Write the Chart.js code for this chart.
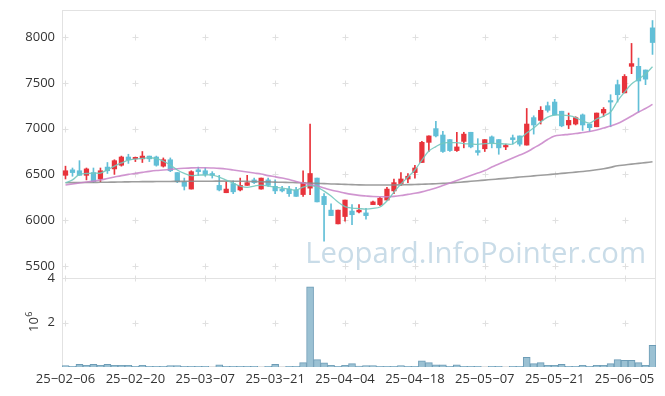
<!DOCTYPE html>
<html>
<head>
<meta charset="utf-8">
<script src="https://cdn.jsdelivr.net/npm/chart.js@4.4.1/dist/chart.umd.min.js"></script>
<style>
  html, body { margin: 0; padding: 0; background: #fff; }
  #wrap { width: 665px; height: 396px; }
</style>
</head>
<body>
<div id="wrap"><canvas id="myChart" width="665" height="396"></canvas></div>
<script>
/*---- chart data ----*/
var dates = [
  "25-02-06","25-02-07","25-02-10","25-02-11","25-02-12","25-02-13","25-02-14","25-02-17","25-02-18","25-02-19",
  "25-02-20","25-02-21","25-02-24","25-02-25","25-02-26","25-02-27","25-02-28","25-03-04","25-03-05","25-03-06",
  "25-03-07","25-03-10","25-03-11","25-03-12","25-03-13","25-03-14","25-03-17","25-03-18","25-03-19","25-03-20",
  "25-03-21","25-03-24","25-03-25","25-03-26","25-03-27","25-03-28","25-03-31","25-04-01","25-04-02","25-04-03",
  "25-04-04","25-04-07","25-04-08","25-04-09","25-04-10","25-04-11","25-04-14","25-04-15","25-04-16","25-04-17",
  "25-04-18","25-04-21","25-04-22","25-04-23","25-04-24","25-04-25","25-04-28","25-04-29","25-04-30","25-05-02",
  "25-05-07","25-05-08","25-05-09","25-05-12","25-05-13","25-05-14","25-05-15","25-05-16","25-05-19","25-05-20",
  "25-05-21","25-05-22","25-05-23","25-05-26","25-05-27","25-05-28","25-05-29","25-05-30","25-06-02","25-06-04",
  "25-06-05","25-06-09","25-06-10","25-06-11","25-06-12"
];
var opens = [
  6490,6550,6540,6490,6520,6450,6580,6560,6600,6690,
  6670,6670,6700,6690,6590,6660,6520,6420,6340,6550,
  6540,6510,6380,6300,6400,6330,6380,6440,6340,6440,
  6370,6340,6340,6330,6280,6350,6460,6260,6110,5960,
  6040,6100,6090,6080,6170,6170,6220,6320,6400,6450,
  6520,6630,6850,7000,6930,6880,6760,6860,6960,6760,
  6780,6910,6880,6800,6900,6920,6820,7120,7090,7250,
  7290,7190,7040,7050,7150,7050,7020,7170,7300,7480,
  7390,7680,7680,7640,8100
];
var highs = [
  6590,6570,6650,6570,6570,6570,6630,6660,6700,6720,
  6690,6750,6700,6700,6680,6680,6520,6460,6540,6580,
  6570,6530,6490,6420,6430,6460,6490,6460,6460,6460,
  6440,6370,6370,6360,6540,7050,6460,6290,6180,6110,
  6220,6170,6170,6130,6210,6250,6360,6450,6520,6510,
  6600,6860,6920,7080,6970,6880,6960,6960,6960,6890,
  6880,6920,6880,6830,6930,6920,7220,7140,7240,7290,
  7320,7190,7170,7130,7160,7050,7170,7230,7370,7530,
  7590,7930,7770,7640,8180
];
var lows = [
  6450,6480,6490,6440,6410,6420,6510,6500,6590,6620,
  6640,6630,6640,6590,6580,6530,6410,6330,6340,6490,
  6480,6460,6320,6300,6290,6320,6380,6400,6340,6370,
  6290,6310,6260,6260,6260,6280,6200,5770,6050,5960,
  5990,5950,6080,6010,6170,6160,6220,6290,6380,6410,
  6460,6630,6750,6910,6740,6750,6750,6790,6790,6710,
  6750,6790,6720,6770,6830,6810,6820,6940,7050,7180,
  7150,7020,7000,7040,6980,6970,7020,7130,7020,7290,
  7390,7600,7180,7480,7810
];
var closes = [
  6540,6520,6490,6560,6420,6540,6540,6650,6690,6660,
  6680,6700,6670,6600,6660,6540,6420,6370,6530,6530,
  6500,6490,6330,6340,6310,6380,6410,6410,6460,6380,
  6320,6320,6290,6260,6410,6510,6200,6170,6050,6110,
  6220,6060,6110,6050,6200,6240,6340,6410,6450,6480,
  6570,6850,6920,6920,6750,6760,6800,6940,6800,6740,
  6880,6840,6790,6810,6880,6830,7050,7040,7200,7200,
  7150,7030,7090,7120,7040,7010,7170,7210,7290,7370,
  7570,7710,7520,7540,7940
];
var volumes = [   // x 10^6
  0.06,0.03,0.12,0.08,0.12,0.08,0.12,0.08,0.08,0.08,
  0.03,0.08,0.03,0.03,0.03,0.06,0.06,0.03,0.03,0.03,
  0.03,0.00,0.10,0.03,0.03,0.03,0.03,0.03,0.00,0.03,
  0.12,0.00,0.03,0.03,0.20,3.60,0.33,0.19,0.08,0.03,
  0.08,0.15,0.04,0.06,0.06,0.03,0.03,0.03,0.06,0.03,
  0.03,0.28,0.20,0.10,0.10,0.03,0.10,0.03,0.03,0.03,
  0.00,0.03,0.03,0.00,0.03,0.03,0.44,0.15,0.20,0.08,
  0.08,0.12,0.03,0.03,0.08,0.03,0.08,0.08,0.15,0.33,
  0.30,0.30,0.20,0.08,0.97
];
var maShort = [
  6410,6440,6500,6510,6515,6515,6550,6590,6625,6655,
  6668,6675,6682,6673,6646,6602,6548,6511,6486,6493,
  6493,6493,6471,6438,6402,6373,6359,6373,6384,6373,
  6362,6351,6340,6329,6362,6378,6362,6318,6264,6198,
  6149,6133,6127,6122,6129,6144,6209,6307,6395,6471,
  6548,6657,6755,6804,6842,6846,6846,6837,6832,6828,
  6837,6839,6837,6832,6832,6886,6952,7006,7072,7126,
  7148,7148,7141,7121,7083,7061,7105,7137,7181,7301,
  7399,7487,7541,7596,7676
];
var maMid = [
  6384,6395,6406,6417,6427,6438,6455,6471,6487,6500,
  6511,6522,6533,6542,6548,6555,6562,6567,6571,6573,
  6573,6570,6566,6559,6548,6537,6526,6515,6504,6487,
  6474,6460,6444,6422,6406,6389,6373,6351,6329,6313,
  6296,6282,6271,6264,6258,6256,6256,6260,6269,6282,
  6294,6309,6329,6351,6378,6406,6433,6460,6487,6515,
  6542,6580,6613,6646,6679,6711,6744,6788,6832,6881,
  6919,6930,6937,6946,6957,6968,6984,7006,7028,7055,
  7094,7137,7181,7219,7265
];
var maLong = [
  6409,6410,6411,6412,6413,6414,6415,6416,6417,6419,
  6420,6421,6421,6422,6422,6423,6424,6424,6425,6425,
  6426,6426,6427,6427,6426,6425,6424,6422,6420,6418,
  6416,6414,6412,6410,6407,6405,6402,6399,6396,6394,
  6391,6389,6386,6384,6384,6384,6384,6384,6386,6388,
  6390,6392,6395,6398,6402,6406,6412,6418,6425,6431,
  6438,6444,6451,6457,6464,6471,6477,6484,6491,6497,
  6504,6511,6518,6525,6532,6540,6550,6562,6577,6595,
  6603,6612,6620,6629,6638
];
var priceTicks = [5500, 6000, 6500, 7000, 7500, 8000];
var volTicks = [2, 4];
/*---- end of chart data ----*/

var upColor = '#e8333b';
var downColor = '#62bfd7';

function candleColor(c) {
  var i = c.dataIndex;
  return closes[i] >= opens[i] ? upColor : downColor;
}

var wicks = [];
var bodies = [];
for (var i = 0; i < dates.length; i++) {
  wicks.push([lows[i], highs[i]]);
  bodies.push([Math.min(opens[i], closes[i]), Math.max(opens[i], closes[i])]);
}

/*---- plugin : border, cross grid, watermark, 10^6 title ----*/
var decor = {
  id: 'decor',
  beforeDatasetsDraw: function(chart) {
    var ctx = chart.ctx, a = chart.chartArea;
    var x = chart.scales.x, y = chart.scales.y, yv = chart.scales.yv;
    ctx.save();
    ctx.strokeStyle = '#e2e2e2';
    ctx.lineWidth = 1;
    ctx.strokeRect(Math.round(a.left) + 0.5, Math.round(a.top) + 0.5,
                   Math.round(a.width) - 1, Math.round(a.height) - 1);
    ctx.beginPath();
    ctx.moveTo(a.left, Math.round(yv.top) + 0.5);
    ctx.lineTo(a.right, Math.round(yv.top) + 0.5);
    ctx.stroke();

    // small crosses at grid intersections
    ctx.strokeStyle = '#e0e0e0';
    var ys = [];
    priceTicks.forEach(function(v) { ys.push(y.getPixelForValue(v)); });
    volTicks.forEach(function(v) { ys.push(yv.getPixelForValue(v)); });
    for (var k = 0; k < dates.length; k += 10) {
      var px = Math.round(x.getPixelForValue(k)) + 0.5;
      ys.forEach(function(py) {
        py = Math.round(py) + 0.5;
        ctx.beginPath();
        ctx.moveTo(px - 3, py); ctx.lineTo(px + 3, py);
        ctx.moveTo(px, py - 3); ctx.lineTo(px, py + 3);
        ctx.stroke();
      });
    }

    // watermark
    ctx.fillStyle = '#c9dce8';
    ctx.textAlign = 'right';
    ctx.textBaseline = 'alphabetic';
    var txt = 'Leopard.InfoPointer.com';
    ctx.font = '32px "Open Sans"';
    var w = ctx.measureText(txt).width;
    var fs = 32 * 341 / w;
    ctx.font = fs.toFixed(1) + 'px "Open Sans"';
    ctx.fillText(txt, 646, 263);

    // 10^6 axis title
    ctx.fillStyle = '#333';
    ctx.translate(38, 332);
    ctx.rotate(-Math.PI / 2);
    ctx.textAlign = 'left';
    ctx.font = '13px "Open Sans"';
    ctx.fillText('10', 0, 0);
    var w10 = ctx.measureText('10').width;
    ctx.font = '9px "Open Sans"';
    ctx.fillText('6', w10 + 0.5, -6);
    ctx.restore();
  }
};

Chart.defaults.font.family = '"Open Sans"';
Chart.defaults.font.size = 13;
Chart.defaults.color = '#333';

function plainTick(v) { return String(v); }
function fitY(s) { s.width = 62; s.paddingTop = 0; s.paddingBottom = 0; }

var ctx = document.getElementById('myChart').getContext('2d');
var myChart = new Chart(ctx, {
  data: {
    labels: dates,
    datasets: [
      { type: 'line', data: maShort, yAxisID: 'y', borderColor: 'rgba(115,200,190,0.9)', borderWidth: 1.3,
        pointRadius: 0, tension: 0.35, order: 0 },
      { type: 'line', data: maMid, yAxisID: 'y', borderColor: 'rgba(200,130,200,0.85)', borderWidth: 1.6,
        pointRadius: 0, tension: 0.35, order: 0 },
      { type: 'line', data: maLong, yAxisID: 'y', borderColor: 'rgba(140,140,140,0.85)', borderWidth: 1.6,
        pointRadius: 0, tension: 0.35, order: 0 },
      { type: 'bar', data: wicks, yAxisID: 'y', backgroundColor: candleColor, barThickness: 1,
        grouped: false, order: 2 },
      { type: 'bar', data: bodies, yAxisID: 'y', backgroundColor: candleColor, barThickness: 4.6,
        minBarLength: 1.5, grouped: false, order: 1 },
      { type: 'bar', data: volumes, yAxisID: 'yv', backgroundColor: '#9bc1d3', borderColor: '#6d9cb6',
        borderWidth: 1, barPercentage: 1, categoryPercentage: 1, grouped: false, order: 3 }
    ]
  },
  options: {
    responsive: false,
    animation: false,
    events: [],
    layout: { padding: { top: 10, right: 9, bottom: 7, left: 0 } },
    plugins: { legend: { display: false }, tooltip: { enabled: false } },
    scales: {
      x: {
        type: 'category',
        offset: true,
        grid: { display: false, drawTicks: false },
        border: { display: false },
        ticks: {
          autoSkip: false, maxRotation: 0, padding: 4,
          callback: function(v, i) { return i % 10 === 0 ? dates[i].replace(/-/g, '\u2212') : ''; }
        },
        afterFit: function(s) { s.height = 22; s.paddingLeft = 0; s.paddingRight = 0; }
      },
      yv: {
        type: 'linear', position: 'left', stack: 'panels', stackWeight: 89,
        min: 0, max: 4,
        grid: { display: false, drawTicks: false },
        border: { display: false },
        ticks: { padding: 7, callback: plainTick },
        afterBuildTicks: function(s) { s.ticks = volTicks.map(function(v) { return { value: v }; }); },
        afterFit: fitY
      },
      y: {
        type: 'linear', position: 'left', stack: 'panels', stackWeight: 268,
        min: 5369, max: 8295,
        grid: { display: false, drawTicks: false },
        border: { display: false },
        ticks: { padding: 7, callback: plainTick },
        afterBuildTicks: function(s) { s.ticks = priceTicks.map(function(v) { return { value: v }; }); },
        afterFit: fitY
      }
    }
  },
  plugins: [decor]
});
</script>
</body>
</html>
